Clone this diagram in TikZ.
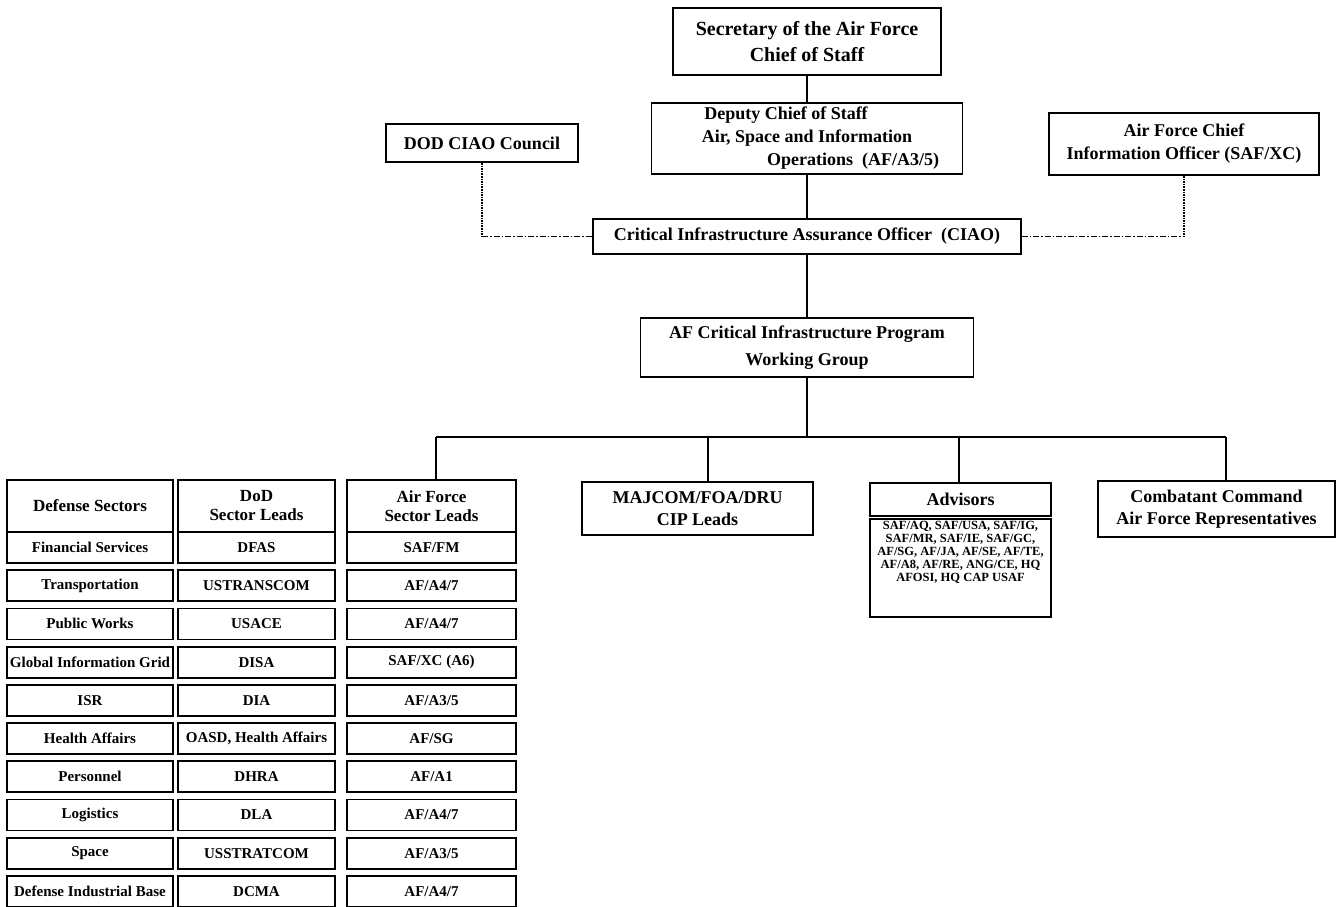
\documentclass[tikz,border=0pt]{standalone}
\usepackage{fontspec}
\setmainfont{Liberation Serif}

\tikzset{
  box/.style={draw, line width=1.8pt, inner sep=0pt, align=center,
    font=\fontsize{18}{23}\selectfont\bfseries},
  cell/.style={draw, line width=1.8pt, minimum height=31, inner sep=0pt,
    font=\fontsize{15}{17}\selectfont\bfseries},
  headcell/.style={draw, line width=2.8pt, minimum height=52, inner sep=0pt,
    align=center, font=\fontsize{17}{19}\selectfont\bfseries},
  link/.style={line width=2pt},
  dotlink/.style={line width=1.6pt, densely dotted},
  dashlink/.style={line width=1.6pt, dash pattern=on 6pt off 2pt on 1.5pt off 2pt},
}

\begin{document}
\begin{tikzpicture}[x=1pt, y=-1pt]
\useasboundingbox (0,0) rectangle (1338,907);

% chain of command
\node[box, minimum width=268, minimum height=67, font=\fontsize{20}{26}\selectfont\bfseries]
  (secaf) at (807,41.5) {Secretary of the Air Force\\Chief of Staff};
\node[box, minimum width=311, minimum height=71]
  (dcs) at (807,138.5) {Deputy Chief of Staff\hspace*{42pt}\\Air, Space and Information\hspace*{34pt}\\\hspace*{92pt}Operations \ (AF/A3/5)};
\node[box, minimum width=192, minimum height=38] (council) at (482,143) {DOD CIAO Council};
\node[box, minimum width=270, minimum height=62] (afcio) at (1184,144) {Air Force Chief\\Information Officer (SAF/XC)};
\node[box, minimum width=428, minimum height=35] (ciao) at (807,236.5) {Critical Infrastructure Assurance Officer \ (CIAO)};
\node[box, minimum width=333, minimum height=59, font=\fontsize{18}{27}\selectfont\bfseries]
  (wg) at (807,347.5) {AF Critical Infrastructure Program\\Working Group};

\draw[link] (secaf.south) -- (secaf.south |- dcs.north);
\draw[link] (dcs.south) -- (dcs.south |- ciao.north);
\draw[link] (ciao.south) -- (ciao.south |- wg.north);

\coordinate (cnlcorner) at (council.south |- ciao.west);
\coordinate (ciocorner) at (afcio.south |- ciao.east);
\draw[dotlink] (council.south) -- (cnlcorner);
\draw[dashlink] (cnlcorner) -- (ciao.west);
\draw[dotlink] (afcio.south) -- (ciocorner);
\draw[dashlink] (ciao.east) -- (ciocorner);

% lower row
\node[box, minimum width=231, minimum height=53, font=\fontsize{18}{22}\selectfont\bfseries]
  (majcom) at (697.5,508.5) {MAJCOM/FOA/DRU\\CIP Leads};
\node[box, minimum width=181, minimum height=33] (advhead) at (960.5,499.5) {Advisors};
\node[draw, line width=1.8pt, minimum width=181, minimum height=98, inner sep=0pt, anchor=north]
  (advlist) at ([yshift=-1pt]advhead.south) {};
\node[anchor=north, inner sep=0pt, align=center, font=\fontsize{12.5}{13}\selectfont\bfseries]
  (advtext) at ([yshift=-3pt]advlist.north)
  {SAF/AQ, SAF/USA, SAF/IG,\\SAF/MR, SAF/IE, SAF/GC,\\AF/SG, AF/JA, AF/SE, AF/TE,\\AF/A8, AF/RE, ANG/CE, HQ\\AFOSI, HQ CAP USAF};
\node[box, minimum width=237, minimum height=56, font=\fontsize{18}{22}\selectfont\bfseries]
  (cocom) at (1216.5,509) {Combatant Command\\Air Force Representatives};

% sector table
\node[headcell, minimum width=166] (sechead) at (90,506) {Defense Sectors};
\node[headcell, minimum width=157] (dodhead) at (256.5,506) {DoD\\Sector Leads};
\node[headcell, minimum width=169] (afhead) at (431.5,506) {Air Force\\Sector Leads};

\foreach \sect/\dodl/\afl [count=\i from 0] in {
  {Financial Services}/{DFAS}/{SAF/FM},
  {Transportation}/{USTRANSCOM}/{AF/A4/7},
  {Public Works}/{USACE}/{AF/A4/7},
  {Global Information Grid}/{DISA}/{SAF/XC (A6)},
  {ISR}/{DIA}/{AF/A3/5},
  {Health Affairs}/{OASD, Health Affairs}/{AF/SG},
  {Personnel}/{DHRA}/{AF/A1},
  {Logistics}/{DLA}/{AF/A4/7},
  {Space}/{USSTRATCOM}/{AF/A3/5},
  {Defense Industrial Base}/{DCMA}/{AF/A4/7}}
{
  \node[cell, minimum width=166] (sect\i) at (90,547.5+38.2*\i) {\sect};
  \node[cell, minimum width=157] (dod\i) at (256.5,547.5+38.2*\i) {\dodl};
  \node[cell, minimum width=169] (afl\i) at (431.5,547.5+38.2*\i) {\afl};
}

% bus
\coordinate (busL) at (436,437);
\coordinate (busM) at (708,437);
\coordinate (busA) at (959,437);
\coordinate (busR) at (1226,437);
\draw[link] (wg.south) -- (wg.south |- busL);
\draw[link] (busL) -- (busR);
\draw[link] (busL) -- (busL |- afhead.north);
\draw[link] (busM) -- (busM |- majcom.north);
\draw[link] (busA) -- (busA |- advhead.north);
\draw[link] (busR) -- (busR |- cocom.north);
\end{tikzpicture}
\end{document}
